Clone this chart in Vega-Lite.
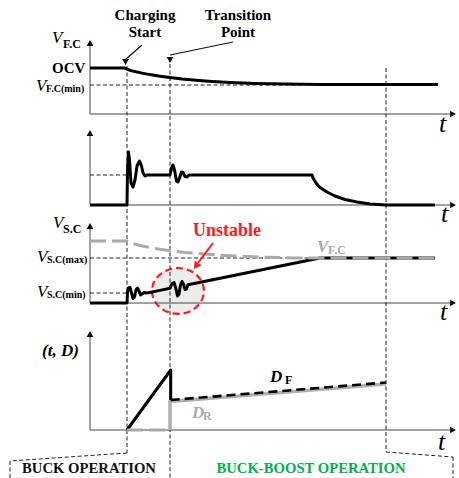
{
  "$schema": "https://vega.github.io/schema/vega-lite/v6.json",
  "width": 459,
  "height": 478,
  "padding": 0,
  "autosize": {"type": "none"},
  "background": "white",
  "config": {"view": {"stroke": null}, "text": {"font": "Liberation Serif, Times New Roman, serif"}},
  "encoding": {
    "x": {"field": "t", "type": "quantitative", "scale": {"domain": [0, 459], "nice": false, "zero": false}, "axis": null},
    "y": {"field": "v", "type": "quantitative", "scale": {"domain": [0, 478], "nice": false, "zero": false, "reverse": true}, "axis": null}
  },
  "datasets": {
    "unstableZone": [{"t": 178, "v": 291}],
    "axes": [
      {"t": 90, "v": 46, "t2": 90, "v2": 114}, {"t": 90, "v": 114, "t2": 450, "v2": 114},
      {"t": 90, "v": 136, "t2": 90, "v2": 205}, {"t": 90, "v": 205, "t2": 450, "v2": 205},
      {"t": 90, "v": 229, "t2": 90, "v2": 303}, {"t": 90, "v": 303, "t2": 450, "v2": 303},
      {"t": 90, "v": 337, "t2": 90, "v2": 430}, {"t": 90, "v": 430, "t2": 450, "v2": 430}
    ],
    "heads": [
      {"t": 90, "v": 43, "dir": "up"}, {"t": 453, "v": 114, "dir": "right"},
      {"t": 90, "v": 133, "dir": "up"}, {"t": 453, "v": 205, "dir": "right"},
      {"t": 90, "v": 226, "dir": "up"}, {"t": 453, "v": 303, "dir": "right"},
      {"t": 90, "v": 334, "dir": "up"}, {"t": 453, "v": 430, "dir": "right"},
      {"t": 125.5, "v": 62, "dir": "down"}, {"t": 170, "v": 60, "dir": "down"}
    ],
    "callouts": [
      {"t": 142, "v": 45, "t2": 126, "v2": 59},
      {"t": 233, "v": 42, "t2": 170, "v2": 55}
    ],
    "guides": [
      {"t": 90, "v": 85, "t2": 300, "v2": 85},
      {"t": 90, "v": 175, "t2": 126, "v2": 175},
      {"t": 90, "v": 258, "t2": 435, "v2": 258},
      {"t": 90, "v": 293, "t2": 127, "v2": 293},
      {"t": 127, "v": 66, "t2": 127, "v2": 453},
      {"t": 170, "v": 64, "t2": 170, "v2": 478},
      {"t": 386, "v": 68, "t2": 386, "v2": 452},
      {"t": 127, "v": 453, "t2": 10, "v2": 461},
      {"t": 10, "v": 461, "t2": 10, "v2": 478},
      {"t": 386, "v": 452, "t2": 453, "v2": 457},
      {"t": 453, "v": 457, "t2": 453, "v2": 478}
    ],
    "inkCurves": [
      {"id": "fc", "t": 90, "v": 68}, {"id": "fc", "t": 125, "v": 68}, {"id": "fc", "t": 127, "v": 69.3},
      {"id": "fc", "t": 131, "v": 70.6}, {"id": "fc", "t": 136, "v": 71.8}, {"id": "fc", "t": 142, "v": 73.1},
      {"id": "fc", "t": 150, "v": 74.6}, {"id": "fc", "t": 160, "v": 76.2}, {"id": "fc", "t": 170, "v": 77.6},
      {"id": "fc", "t": 182, "v": 79}, {"id": "fc", "t": 196, "v": 80.3}, {"id": "fc", "t": 212, "v": 81.5},
      {"id": "fc", "t": 230, "v": 82.5}, {"id": "fc", "t": 255, "v": 83.4}, {"id": "fc", "t": 285, "v": 84},
      {"id": "fc", "t": 320, "v": 84.4}, {"id": "fc", "t": 370, "v": 84.6}, {"id": "fc", "t": 438, "v": 84.6},

      {"id": "cur", "t": 90, "v": 205}, {"id": "cur", "t": 127, "v": 205}, {"id": "cur", "t": 127.5, "v": 170},
      {"id": "cur", "t": 128.5, "v": 152}, {"id": "cur", "t": 129.5, "v": 160}, {"id": "cur", "t": 131, "v": 183},
      {"id": "cur", "t": 133, "v": 187}, {"id": "cur", "t": 135, "v": 180}, {"id": "cur", "t": 137, "v": 166},
      {"id": "cur", "t": 139.5, "v": 161}, {"id": "cur", "t": 141.5, "v": 166}, {"id": "cur", "t": 143, "v": 173},
      {"id": "cur", "t": 145, "v": 176}, {"id": "cur", "t": 147, "v": 175}, {"id": "cur", "t": 170, "v": 175},
      {"id": "cur", "t": 171.5, "v": 168}, {"id": "cur", "t": 173, "v": 165}, {"id": "cur", "t": 174.5, "v": 170},
      {"id": "cur", "t": 176.5, "v": 181}, {"id": "cur", "t": 178, "v": 182}, {"id": "cur", "t": 179.5, "v": 178},
      {"id": "cur", "t": 181.5, "v": 172}, {"id": "cur", "t": 183, "v": 172.5}, {"id": "cur", "t": 185, "v": 176.5},
      {"id": "cur", "t": 187, "v": 177}, {"id": "cur", "t": 189, "v": 175}, {"id": "cur", "t": 312, "v": 175},
      {"id": "cur", "t": 313, "v": 178}, {"id": "cur", "t": 316, "v": 183}, {"id": "cur", "t": 320, "v": 187.5},
      {"id": "cur", "t": 327, "v": 192}, {"id": "cur", "t": 335, "v": 196}, {"id": "cur", "t": 345, "v": 199.5},
      {"id": "cur", "t": 357, "v": 202}, {"id": "cur", "t": 370, "v": 204}, {"id": "cur", "t": 386, "v": 205},
      {"id": "cur", "t": 435, "v": 205},

      {"id": "sc", "t": 90, "v": 303}, {"id": "sc", "t": 127, "v": 303}, {"id": "sc", "t": 127.5, "v": 292},
      {"id": "sc", "t": 128.5, "v": 288}, {"id": "sc", "t": 130, "v": 287.5}, {"id": "sc", "t": 131.5, "v": 293},
      {"id": "sc", "t": 133, "v": 298.5}, {"id": "sc", "t": 134.5, "v": 297}, {"id": "sc", "t": 136, "v": 290},
      {"id": "sc", "t": 137.5, "v": 288}, {"id": "sc", "t": 139, "v": 291}, {"id": "sc", "t": 140.5, "v": 295},
      {"id": "sc", "t": 142, "v": 294}, {"id": "sc", "t": 144, "v": 292.5}, {"id": "sc", "t": 147, "v": 293},
      {"id": "sc", "t": 160, "v": 290.4}, {"id": "sc", "t": 170, "v": 288.3}, {"id": "sc", "t": 172, "v": 283.5},
      {"id": "sc", "t": 174, "v": 282.5}, {"id": "sc", "t": 176, "v": 289}, {"id": "sc", "t": 177.5, "v": 296},
      {"id": "sc", "t": 179, "v": 294}, {"id": "sc", "t": 180.5, "v": 285}, {"id": "sc", "t": 182, "v": 281.5},
      {"id": "sc", "t": 183.5, "v": 284}, {"id": "sc", "t": 185, "v": 289.5}, {"id": "sc", "t": 186.5, "v": 289},
      {"id": "sc", "t": 188, "v": 284.7}, {"id": "sc", "t": 320, "v": 258}, {"id": "sc", "t": 435, "v": 258},

      {"id": "df", "t": 127, "v": 430}, {"id": "df", "t": 170.7, "v": 370}, {"id": "df", "t": 170.7, "v": 400}
    ],
    "grayDashed": [
      {"id": "fcRef", "t": 90, "v": 241}, {"id": "fcRef", "t": 127, "v": 241}, {"id": "fcRef", "t": 133, "v": 243.5},
      {"id": "fcRef", "t": 140, "v": 245.5}, {"id": "fcRef", "t": 150, "v": 247.6}, {"id": "fcRef", "t": 160, "v": 249.3},
      {"id": "fcRef", "t": 170, "v": 250.7}, {"id": "fcRef", "t": 185, "v": 252.4}, {"id": "fcRef", "t": 200, "v": 253.7},
      {"id": "fcRef", "t": 220, "v": 255.1}, {"id": "fcRef", "t": 240, "v": 256.2}, {"id": "fcRef", "t": 265, "v": 257.2},
      {"id": "fcRef", "t": 295, "v": 257.9}, {"id": "fcRef", "t": 330, "v": 258}, {"id": "fcRef", "t": 435, "v": 258},
      {"id": "drBase", "t": 127, "v": 430}, {"id": "drBase", "t": 170, "v": 430}
    ],
    "graySolid": [
      {"id": "dr", "t": 170, "v": 430}, {"id": "dr", "t": 170, "v": 401.5}, {"id": "dr", "t": 386, "v": 384}
    ],
    "inkDashed": [
      {"id": "dfRamp", "t": 170.7, "v": 400}, {"id": "dfRamp", "t": 386, "v": 382.5}
    ],
    "redArrow": [{"t": 213, "v": 243, "t2": 198, "v2": 263}],
    "redHead": [{"t": 196, "v": 266}],
    "italicV": [
      {"t": 52, "v": 43, "text": "V"}, {"t": 36, "v": 90.5, "text": "V"},
      {"t": 53, "v": 228, "text": "V"}, {"t": 37, "v": 262, "text": "V"}, {"t": 37, "v": 297, "text": "V"}
    ],
    "italicD": [{"t": 42, "v": 356, "text": "(t, D)"}, {"t": 270, "v": 382, "text": "D"}],
    "subLarge": [
      {"t": 63, "v": 48, "text": "F.C"}, {"t": 63, "v": 232.5, "text": "S.C"}, {"t": 285, "v": 384, "text": "F"}
    ],
    "subSmall": [
      {"t": 46, "v": 91.5, "text": "F.C(min)"}, {"t": 47, "v": 263, "text": "S.C(max)"}, {"t": 47, "v": 298, "text": "S.C(min)"}
    ],
    "grayItalic": [{"t": 317, "v": 252, "text": "V"}, {"t": 192, "v": 418, "text": "D"}],
    "graySub": [{"t": 328, "v": 254, "text": "F.C"}, {"t": 203, "v": 420, "text": "R"}],
    "ocv": [{"t": 52, "v": 73, "text": "OCV"}],
    "events": [
      {"t": 145, "v": 20, "text": "Charging"}, {"t": 145, "v": 37, "text": "Start"},
      {"t": 238, "v": 20, "text": "Transition"}, {"t": 238, "v": 37, "text": "Point"}
    ],
    "timeLabels": [
      {"t": 439, "v": 132, "text": "t"}, {"t": 441, "v": 222, "text": "t"},
      {"t": 440, "v": 320, "text": "t"}, {"t": 438, "v": 450, "text": "t"}
    ],
    "unstableLabel": [{"t": 227, "v": 236, "text": "Unstable"}],
    "modes": [
      {"t": 89, "v": 473, "text": "BUCK OPERATION", "mode": "buck"},
      {"t": 311, "v": 473, "text": "BUCK-BOOST OPERATION", "mode": "buckBoost"}
    ]
  },
  "layer": [
    {
      "data": {"name": "unstableZone"},
      "mark": {"type": "point", "shape": "M -1 0 A 1 0.88 0 1 0 1 0 A 1 0.88 0 1 0 -1 0 Z", "size": 2704, "filled": true, "fill": "#ececec", "stroke": "#ff1a1a", "strokeWidth": 2.2, "strokeDash": [7, 4], "opacity": 1}
    },
    {
      "data": {"name": "axes"},
      "mark": {"type": "rule", "color": "#444444", "strokeWidth": 1},
      "encoding": {"x2": {"field": "t2"}, "y2": {"field": "v2"}}
    },
    {
      "data": {"name": "guides"},
      "mark": {"type": "rule", "color": "#222222", "strokeWidth": 1, "strokeDash": [4, 2.5]},
      "encoding": {"x2": {"field": "t2"}, "y2": {"field": "v2"}}
    },
    {
      "data": {"name": "callouts"},
      "mark": {"type": "rule", "color": "#111111", "strokeWidth": 1.2},
      "encoding": {"x2": {"field": "t2"}, "y2": {"field": "v2"}}
    },
    {
      "data": {"name": "graySolid"},
      "mark": {"type": "line", "color": "#b0b0b0", "strokeWidth": 3.5},
      "encoding": {"detail": {"field": "id"}, "order": {"value": null}}
    },
    {
      "data": {"name": "inkCurves"},
      "mark": {"type": "line", "color": "#000000", "strokeWidth": 3, "strokeJoin": "round"},
      "encoding": {"detail": {"field": "id"}, "order": {"value": null}}
    },
    {
      "data": {"name": "grayDashed"},
      "mark": {"type": "line", "color": "#aaaaaa", "strokeWidth": 3, "strokeDash": [16, 6]},
      "encoding": {"detail": {"field": "id"}, "order": {"value": null}}
    },
    {
      "data": {"name": "inkDashed"},
      "mark": {"type": "line", "color": "#000000", "strokeWidth": 2.6, "strokeDash": [9, 5]},
      "encoding": {"detail": {"field": "id"}, "order": {"value": null}}
    },
    {
      "data": {"name": "redArrow"},
      "mark": {"type": "rule", "color": "#ff1a1a", "strokeWidth": 2},
      "encoding": {"x2": {"field": "t2"}, "y2": {"field": "v2"}}
    },
    {
      "data": {"name": "redHead"},
      "mark": {"type": "point", "shape": "triangle-up", "size": 70, "filled": true, "color": "#ff1a1a", "angle": 216, "opacity": 1}
    },
    {
      "data": {"name": "heads"},
      "mark": {"type": "point", "filled": true, "color": "#111111", "size": 45, "opacity": 1},
      "encoding": {
        "shape": {"field": "dir", "type": "nominal", "scale": {"domain": ["up", "right", "down"], "range": ["triangle-up", "triangle-right", "triangle-down"]}, "legend": null}
      }
    },
    {
      "data": {"name": "italicV"},
      "mark": {"type": "text", "align": "left", "baseline": "alphabetic", "fontSize": 17, "fontStyle": "italic", "color": "#000000"},
      "encoding": {"text": {"field": "text"}}
    },
    {
      "data": {"name": "italicD"},
      "mark": {"type": "text", "align": "left", "baseline": "alphabetic", "fontSize": 17, "fontStyle": "italic", "fontWeight": "bold", "color": "#000000"},
      "encoding": {"text": {"field": "text"}}
    },
    {
      "data": {"name": "subLarge"},
      "mark": {"type": "text", "align": "left", "baseline": "alphabetic", "fontSize": 12, "fontWeight": "bold", "color": "#000000"},
      "encoding": {"text": {"field": "text"}}
    },
    {
      "data": {"name": "subSmall"},
      "mark": {"type": "text", "align": "left", "baseline": "alphabetic", "fontSize": 10, "fontWeight": "bold", "color": "#000000"},
      "encoding": {"text": {"field": "text"}}
    },
    {
      "data": {"name": "grayItalic"},
      "mark": {"type": "text", "align": "left", "baseline": "alphabetic", "fontSize": 17, "fontStyle": "italic", "fontWeight": "bold", "color": "#aaaaaa"},
      "encoding": {"text": {"field": "text"}}
    },
    {
      "data": {"name": "graySub"},
      "mark": {"type": "text", "align": "left", "baseline": "alphabetic", "fontSize": 12, "fontWeight": "bold", "color": "#aaaaaa"},
      "encoding": {"text": {"field": "text"}}
    },
    {
      "data": {"name": "ocv"},
      "mark": {"type": "text", "align": "left", "baseline": "alphabetic", "fontSize": 15, "fontWeight": "bold", "color": "#000000"},
      "encoding": {"text": {"field": "text"}}
    },
    {
      "data": {"name": "events"},
      "mark": {"type": "text", "align": "center", "baseline": "alphabetic", "fontSize": 15, "fontWeight": "bold", "color": "#000000"},
      "encoding": {"text": {"field": "text"}}
    },
    {
      "data": {"name": "timeLabels"},
      "mark": {"type": "text", "align": "left", "baseline": "alphabetic", "fontSize": 26, "fontStyle": "italic", "color": "#000000"},
      "encoding": {"text": {"field": "text"}}
    },
    {
      "data": {"name": "unstableLabel"},
      "mark": {"type": "text", "align": "center", "baseline": "alphabetic", "fontSize": 18, "fontWeight": "bold", "color": "#ff1a1a"},
      "encoding": {"text": {"field": "text"}}
    },
    {
      "data": {"name": "modes"},
      "mark": {"type": "text", "align": "center", "baseline": "alphabetic", "fontSize": 14.7, "fontWeight": "bold"},
      "encoding": {
        "text": {"field": "text"},
        "color": {"field": "mode", "type": "nominal", "scale": {"domain": ["buck", "buckBoost"], "range": ["#111111", "#00b050"]}, "legend": null}
      }
    }
  ]
}
